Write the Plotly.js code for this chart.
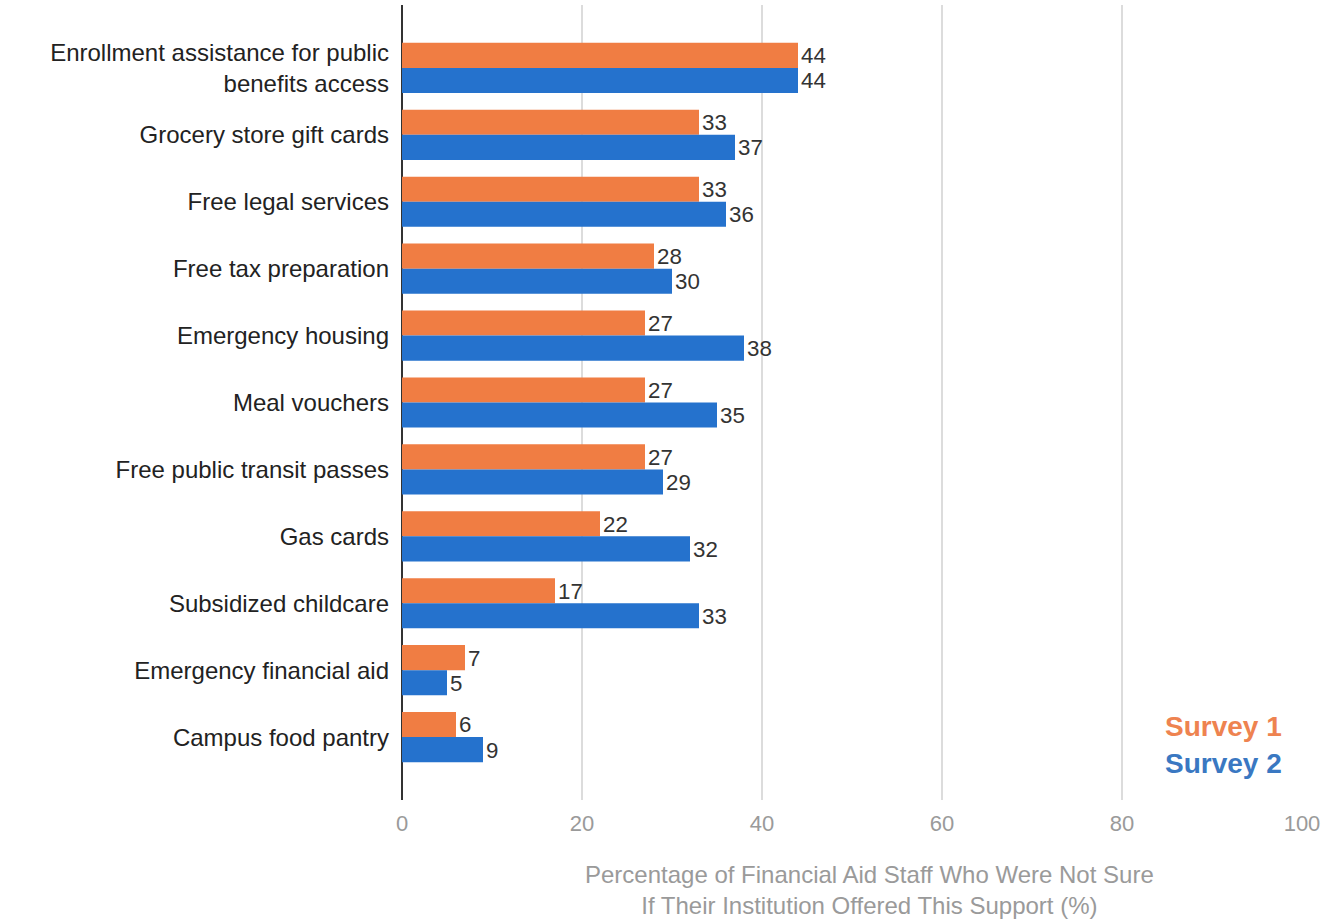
<!DOCTYPE html>
<html>
<head>
<meta charset="utf-8">
<script src="https://cdn.plot.ly/plotly-3.0.1.min.js"></script>
<style>html,body{margin:0;padding:0;background:#fff;}#chart{width:1333px;height:922px;}</style>
</head>
<body>
<div id="chart"></div>
<script>
const categories = [
  "Enrollment assistance for public<br>benefits access",
  "Grocery store gift cards",
  "Free legal services",
  "Free tax preparation",
  "Emergency housing",
  "Meal vouchers",
  "Free public transit passes",
  "Gas cards",
  "Subsidized childcare",
  "Emergency financial aid",
  "Campus food pantry"
];
const survey1 = [44, 33, 33, 28, 27, 27, 27, 22, 17, 7, 6];
const survey2 = [44, 37, 36, 30, 38, 35, 29, 32, 33, 5, 9];
const xTicks = [0, 20, 40, 60, 80, 100];

const FONT = "Liberation Sans, Arial, sans-serif";
const ORANGE = "#F07D43";
const BLUE = "#2572CD";

const traces = [
  {type: "bar", orientation: "h", name: "Survey 1", y: categories, x: survey1,
   marker: {color: ORANGE}, text: survey1.map(String), textposition: "outside",
   textfont: {family: FONT, size: 24, color: "#333"}, cliponaxis: false},
  {type: "bar", orientation: "h", name: "Survey 2", y: categories, x: survey2,
   marker: {color: BLUE}, text: survey2.map(String), textposition: "outside",
   textfont: {family: FONT, size: 24, color: "#333"}, cliponaxis: false}
];

const layout = {
  width: 1333, height: 922,
  margin: {l: 402, r: 31, t: 5, b: 122},
  paper_bgcolor: "#fff", plot_bgcolor: "#fff",
  barmode: "group", bargap: 0.25, bargroupgap: 0,
  showlegend: false,
  font: {family: FONT},
  xaxis: {
    range: [0, 100], tickvals: xTicks, ticktext: xTicks.map(String),
    showgrid: true, gridcolor: "#dcdcdc", gridwidth: 2,
    zeroline: true, zerolinecolor: "#333", zerolinewidth: 2,
    showline: false, ticks: "", ticklabelstandoff: 8,
    tickfont: {family: FONT, size: 22, color: "#9a9a9a"}
  },
  yaxis: {
    type: "category", range: [10.94, -0.94],
    showgrid: false, zeroline: false, showline: false, ticks: "",
    ticklabelstandoff: 12,
    tickfont: {family: FONT, size: 24, color: "#222"}
  },
  annotations: [
    {text: "Percentage of Financial Aid Staff Who Were Not Sure<br>If Their Institution Offered This Support (%)",
     xref: "paper", yref: "paper", x: 0.5189, y: -0.074, xanchor: "center", yanchor: "top",
     showarrow: false, align: "center", font: {family: FONT, size: 24, color: "#9a9a9a"}},
    {text: "<b>Survey 1</b>", xref: "paper", yref: "paper", x: 0.98, y: 0.092,
     xanchor: "right", yanchor: "middle", showarrow: false,
     font: {family: FONT, size: 28, color: "#EE8350"}},
    {text: "<b>Survey 2</b>", xref: "paper", yref: "paper", x: 0.98, y: 0.046,
     xanchor: "right", yanchor: "middle", showarrow: false,
     font: {family: FONT, size: 28, color: "#3A78C2"}}
  ]
};

Plotly.newPlot("chart", traces, layout, {displayModeBar: false, staticPlot: true});
</script>
</body>
</html>
